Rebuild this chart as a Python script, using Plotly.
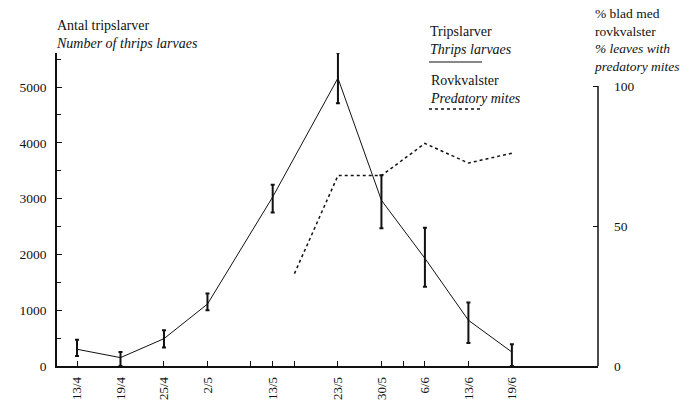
import plotly.graph_objects as go

# Sampling dates and their positions along the time axis
dates = ["13/4", "19/4", "25/4", "2/5", "13/5", "23/5", "30/5", "6/6", "13/6", "19/6"]
date_pos = [0, 1, 2, 3, 4.5, 6, 7, 8, 9, 10]
extra_ticks = [4, 5, 7.5]

# Thrips larvae: mean count with lower / upper limits
larvae_mean = [300, 150, 490, 1110, 3030, 5160, 2970, 1930, 820, 250]
larvae_low = [180, 0, 330, 1000, 2750, 4710, 2470, 1420, 410, 0]
larvae_high = [470, 250, 640, 1300, 3250, 5620, 3420, 2480, 1140, 390]

# Predatory mites: % leaves with mites
mites_pos = [5, 6, 7, 8, 9, 10]
mites_pct = [33, 68, 68, 79.5, 72.5, 76]

FONT = "Liberation Serif"
INK = "#111111"

fig = go.Figure()

fig.add_trace(go.Scatter(
    x=date_pos, y=larvae_mean, mode="lines",
    line=dict(color=INK, width=1),
    error_y=dict(
        type="data", symmetric=False,
        array=[h - m for h, m in zip(larvae_high, larvae_mean)],
        arrayminus=[m - l for m, l in zip(larvae_mean, larvae_low)],
        color=INK, thickness=2, width=2,
    ),
    showlegend=False,
))

fig.add_trace(go.Scatter(
    x=mites_pos, y=mites_pct, mode="lines", yaxis="y2",
    line=dict(color=INK, width=1.5, dash="dot"),
    showlegend=False,
))

L, R, T, B = 57, 92, 53, 36
W, H = 690, 402
pw, ph = W - L - R, H - T - B


def px(xpix):
    return (xpix - L) / pw


def py(ypix):
    return (H - B - ypix) / ph


annotations = []


def text(s, x, y, size=14):
    annotations.append(dict(
        text=s, xref="paper", yref="paper", x=px(x), y=py(y),
        xanchor="left", yanchor="middle", align="left", showarrow=False,
        font=dict(family=FONT, size=size, color=INK),
    ))


text("Antal tripslarver<br><i>Number of thrips larvaes</i>", 54, 34)
text("Tripslarver<br><i>Thrips larvaes</i>", 428, 41)
text("Rovkvalster<br><i>Predatory mites</i>", 428, 89)
text("% blad med<br>rovkvalster<br><i>% leaves with</i><br><i>predatory mites</i>", 592, 40, size=13.5)

shapes = [
    dict(type="line", xref="paper", yref="paper",
         x0=px(429), x1=px(482), y0=py(62), y1=py(62),
         line=dict(color=INK, width=1)),
    dict(type="line", xref="paper", yref="paper",
         x0=px(429), x1=px(483), y0=py(109), y1=py(109),
         line=dict(color=INK, width=1.5, dash="dot")),
    dict(type="line", xref="paper", yref="y2",
         x0=1, x1=1, y0=0, y1=100,
         line=dict(color=INK, width=1.5)),
]

fig.update_layout(
    width=W, height=H,
    margin=dict(l=L, r=R, t=T, b=B, pad=0, autoexpand=False),
    paper_bgcolor="white", plot_bgcolor="white",
    font=dict(family=FONT, size=13, color=INK),
    xaxis=dict(
        range=[-0.46, 11.98], showgrid=False, zeroline=False,
        automargin=False,
        showline=True, linecolor=INK, linewidth=1.5,
        tickmode="array", tickvals=date_pos, ticktext=dates,
        ticks="inside", ticklen=5, tickcolor=INK, tickwidth=1,
        tickangle=-90, tickfont=dict(family=FONT, size=13, color=INK),
        ticklabelstandoff=4,
        minor=dict(tickmode="array", tickvals=extra_ticks,
                   ticks="inside", ticklen=5, tickcolor=INK, tickwidth=1),
    ),
    yaxis=dict(
        range=[0, 5610], showgrid=False, zeroline=False,
        automargin=False,
        showline=True, linecolor=INK, linewidth=1.5,
        tickmode="array", tickvals=[0, 1000, 2000, 3000, 4000, 5000],
        ticks="inside", ticklen=5, tickcolor=INK, tickwidth=1,
        tickfont=dict(family=FONT, size=13.5, color=INK),
        ticklabelstandoff=6,
        minor=dict(tickmode="array", tickvals=[500, 1500, 2500, 3500, 4500, 5500],
                   ticks="inside", ticklen=4, tickcolor=INK, tickwidth=1),
    ),
    yaxis2=dict(
        overlaying="y", side="right", range=[0, 111.8],
        automargin=False,
        showgrid=False, zeroline=False, showline=False,
        tickmode="array", tickvals=[0, 50, 100],
        ticks="inside", ticklen=5, tickcolor=INK, tickwidth=1,
        tickfont=dict(family=FONT, size=13.5, color=INK),
        ticklabelstandoff=15,
    ),
    annotations=annotations,
    shapes=shapes,
)

fig.write_html("out.html")
